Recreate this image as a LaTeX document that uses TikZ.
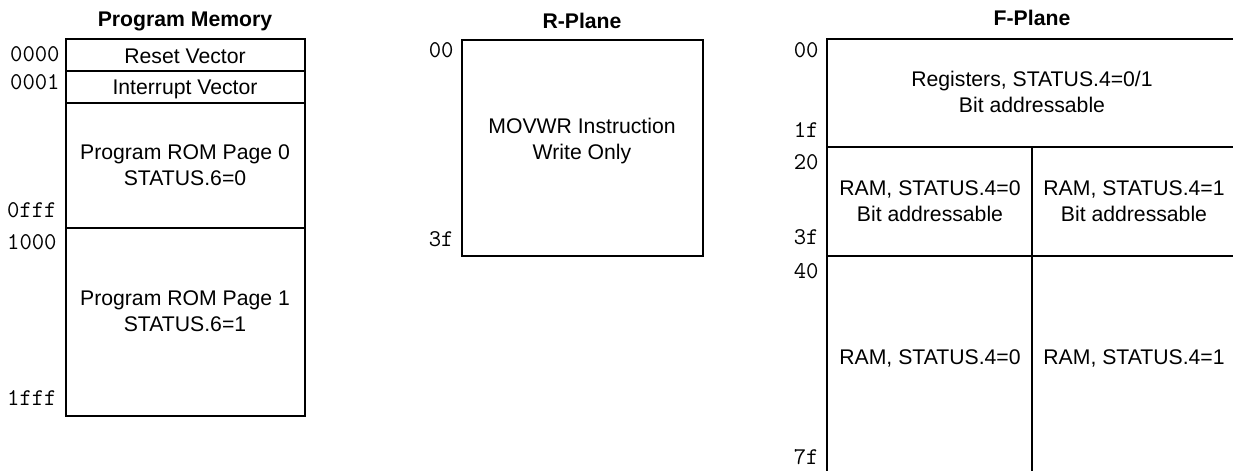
\documentclass[tikz,border=0pt]{standalone}
\usepackage{fontspec}
\setmainfont{Liberation Sans}
\begin{document}
\begin{tikzpicture}[x=0.5pt, y=-0.5pt,
	box/.style={line width=1.1pt},
	sep/.style={line width=0.85pt},
	addr/.style={anchor=east, inner sep=0pt, font=\ttfamily\fontsize{12}{13}\selectfont},
	txt/.style={align=center, inner sep=0pt, font=\fontsize{10.6}{13}\selectfont},
	ttl/.style={inner sep=0pt, font=\bfseries\fontsize{10.6}{13}\selectfont}]
			\useasboundingbox (0,0) rectangle (1233,471);
			\clip (0,0) rectangle (1233,471);
			\draw[box] (66,39) rectangle (305,416);
			\draw[sep] (66,71) -- (305,71) (66,103) -- (305,103);
			\draw[box] (66,228) -- (305,228);
			\node[ttl] (pmtitle) at (185,21) {Program Memory};
			\node[txt] (reset) at (185,56) {Reset Vector};
			\node[txt] (irq) at (185,89) {Interrupt Vector};
			\node[txt] (page0) at (185,165) {Program ROM Page 0\\STATUS.6=0};
			\node[txt] (page1) at (185,311) {Program ROM Page 1\\STATUS.6=1};
			\node[addr] (a0000) at (60,54) {0000};
			\node[addr] (a0001) at (60,82) {0001};
			\node[addr] (a0fff) at (57,210) {0fff};
			\node[addr] (a1000) at (57,242) {1000};
			\node[addr] (a1fff) at (57,398) {1fff};
			\draw[box] (462,40) rectangle (703,256);
			\node[ttl] (rtitle) at (582,21) {R-Plane};
			\node[txt] (movwr) at (582,141) {MOVWR Instruction\\Write Only};
			\node[addr] (r00) at (454,50) {00};
			\node[addr] (r3f) at (454,239) {3f};
			\draw[box] (827,39) rectangle (1237,490);
			\draw[box] (827,147) -- (1237,147) (1032,147) -- (1032,490);
			\draw[sep] (827,256) -- (1237,256);
			\node[ttl] (ftitle) at (1032,18) {F-Plane};
			\node[txt] (regs) at (1032,92) {Registers, STATUS.4=0/1\\Bit addressable};
			\node[txt] (ram0b) at (930,201) {RAM, STATUS.4=0\\Bit addressable};
			\node[txt] (ram1b) at (1134,201) {RAM, STATUS.4=1\\Bit addressable};
			\node[txt] (ram0) at (930,358) {RAM, STATUS.4=0};
			\node[txt] (ram1) at (1134,358) {RAM, STATUS.4=1};
			\node[addr] (f00) at (819,50) {00};
			\node[addr] (f1f) at (819,130) {1f};
			\node[addr] (f20) at (819,162) {20};
			\node[addr] (f3f) at (819,237) {3f};
			\node[addr] (f40) at (819,271) {40};
			\node[addr] (f7f) at (819,457) {7f};
		\end{tikzpicture}
\end{document}
